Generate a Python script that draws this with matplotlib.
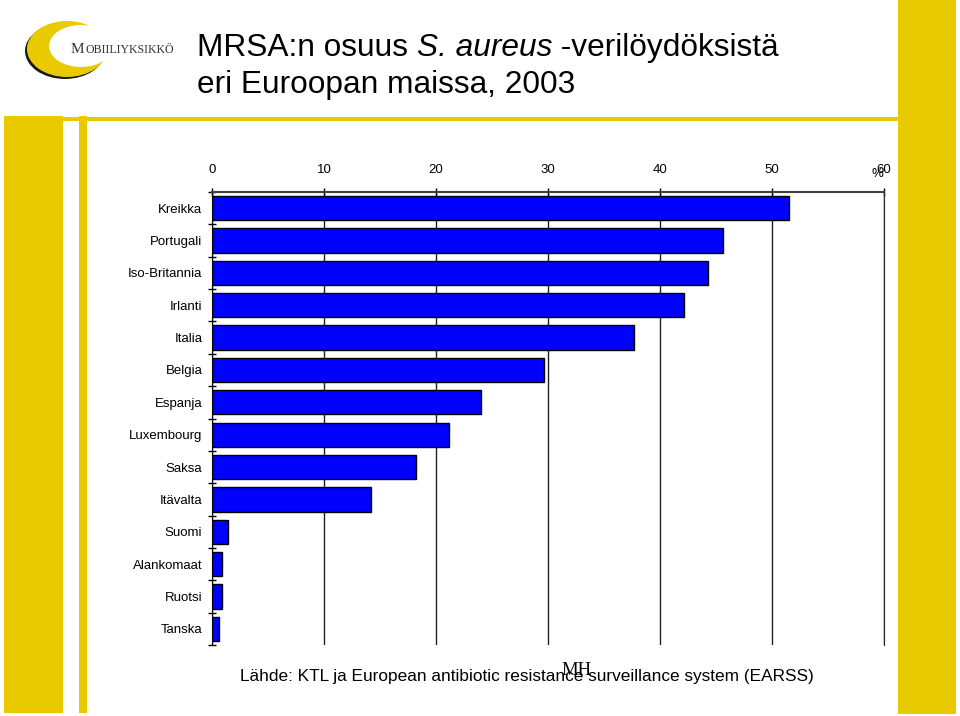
import matplotlib
matplotlib.use("Agg")
import matplotlib.pyplot as plt
from matplotlib.patches import Rectangle, Ellipse
import numpy as np

countries = ["Kreikka", "Portugali", "Iso-Britannia", "Irlanti", "Italia", "Belgia",
             "Espanja", "Luxembourg", "Saksa", "Itävalta", "Suomi", "Alankomaat",
             "Ruotsi", "Tanska"]
mrsa_pct = [51.5, 45.6, 44.3, 42.1, 37.7, 29.6, 24.0, 21.2, 18.2, 14.2, 1.4, 0.9, 0.9, 0.6]
x_ticks = [0, 10, 20, 30, 40, 50, 60]

plt.rcParams['font.family'] = ['Liberation Sans', 'DejaVu Sans']

W, H = 960, 716
YEL = '#E9C900'
fig = plt.figure(figsize=(W / 100, H / 100), dpi=100)
fig.patch.set_facecolor('white')

bg = fig.add_axes([0, 0, 1, 1], zorder=0)
bg.set_xlim(0, W)
bg.set_ylim(H, 0)
bg.axis('off')

# decorative slide frame
bg.add_patch(Rectangle((4, 116), 59, 597, color=YEL, lw=0))
bg.add_patch(Rectangle((79, 116), 8, 597, color=YEL, lw=0))
bg.add_patch(Rectangle((4, 117), 894, 4, color=YEL, lw=0))
bg.add_patch(Rectangle((898, 0), 58, 714, color=YEL, lw=0))

# logo
bg.add_patch(Ellipse((65, 51), 80, 56, color='#1a1a1a', lw=0))
bg.add_patch(Ellipse((67, 49), 80, 56, color=YEL, lw=0))
bg.add_patch(Ellipse((81, 46), 64, 42, color='white', lw=0))
r = fig.canvas.get_renderer()
tm = bg.text(71, 53, "M", family='Liberation Serif', fontsize=11, color='#333333', va='baseline')
bb = tm.get_window_extent(renderer=r)
bg.text(71 + bb.width + 0.5, 53, "OBIILIYKSIKKÖ", family='Liberation Serif', fontsize=8.6,
        color='#333333', va='baseline')

# title
TS = 22.8
t1 = bg.text(197, 56, "MRSA:n osuus ", fontsize=TS, va='baseline')
x = 197 + t1.get_window_extent(renderer=r).width
t2 = bg.text(x, 56, "S. aureus", fontsize=TS, style='italic', va='baseline')
x += t2.get_window_extent(renderer=r).width
bg.text(x, 56, " -verilöydöksistä", fontsize=TS, va='baseline')
bg.text(197, 93, "eri Euroopan maissa, 2003", fontsize=TS, va='baseline')

# source
bg.text(240, 681, "Lähde: KTL ja European antibiotic resistance surveillance system (EARSS)",
        fontsize=12.4, va='baseline')
bg.text(561, 675, "MH", family='Liberation Serif', fontsize=13.5, va='baseline')
bg.text(877, 174, "%", fontsize=9.5, ha='center', va='center')

# main chart
x0, x1, y0, y1 = 212, 884, 192, 645
ax = fig.add_axes([x0 / W, 1 - y1 / H, (x1 - x0) / W, (y1 - y0) / H], zorder=2)
ax.patch.set_alpha(0)
n = len(countries)
pos = np.arange(n)
ax.barh(pos, mrsa_pct, height=0.75, color='#0000FF', edgecolor='black', linewidth=1, zorder=3)
ax.set_xlim(x_ticks[0], x_ticks[-1])
ax.set_ylim(n - 0.5, -0.5)
ax.xaxis.tick_top()
ax.set_xticks(x_ticks)
ax.set_xticklabels([str(v) for v in x_ticks], fontsize=9.5)
ax.tick_params(axis='x', direction='inout', length=6, width=1, pad=8.5, colors='black')
ax.grid(axis='x', color='#222222', lw=1, zorder=1)
ax.set_axisbelow(True)
ax.set_yticks(pos)
ax.set_yticklabels(countries, fontsize=9.5)
ax.tick_params(axis='y', which='major', length=0, pad=7)
ax.set_yticks(np.arange(-0.5, n, 1), minor=True)
ax.tick_params(axis='y', which='minor', direction='inout', length=6, width=1, color='black')
ax.spines['bottom'].set_visible(False)
ax.spines['top'].set_color('#404040')
ax.spines['top'].set_linewidth(1.5)
ax.spines['right'].set_color('#222222')
ax.spines['left'].set_color('black')

fig.savefig("out.png", dpi=100)
